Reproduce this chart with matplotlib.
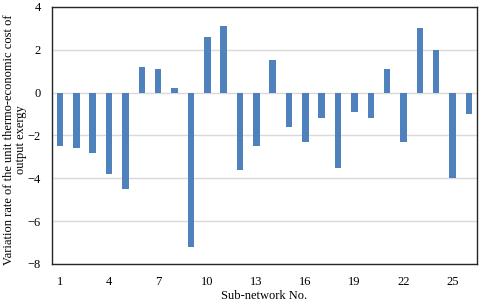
import matplotlib
matplotlib.use("Agg")
import matplotlib.pyplot as plt

# data
sub_network = list(range(1, 27))
variation = [-2.5, -2.6, -2.8, -3.8, -4.5, 1.2, 1.1, 0.2, -7.2, 2.6,
             3.1, -3.6, -2.5, 1.5, -1.6, -2.3, -1.2, -3.5, -0.9, -1.2,
             1.1, -2.3, 3.0, 2.0, -4.0, -1.0]
x_ticks = [1, 4, 7, 10, 13, 16, 19, 22, 25]
y_ticks = [-8, -6, -4, -2, 0, 2, 4]

plt.rcParams['font.family'] = ['Liberation Serif', 'DejaVu Serif']

fig = plt.figure(figsize=(4.8, 3.01), dpi=100)
ax = fig.add_axes([0.108, 0.123, 0.886, 0.854])

ax.bar(sub_network, variation, width=0.4, color='#4f81bd', zorder=3)

ax.set_xlim(0.5, 26.5)
ax.set_ylim(-8, 4)
ax.set_xticks(x_ticks)
ax.set_yticks(y_ticks)
ax.tick_params(length=0, labelsize=9)
ax.tick_params(axis='x', pad=9)
ax.tick_params(axis='y', pad=8)
ax.yaxis.grid(True, color='#d9d9d9', linewidth=1, zorder=0)

for s in ax.spines.values():
    s.set_color('#262626')
    s.set_linewidth(1.0)

ax.set_xlabel('Sub-network No.', fontsize=9, labelpad=1)
# y label placed by hand so the wider tick pad doesn't push it off the edge
fig.text(15 / 480, 1 - 140 / 301,
         'Variation rate of the unit thermo-economic cost of\noutput exergy',
         rotation=90, ha='center', va='center', fontsize=9,
         linespacing=1.0, multialignment='center')

fig.savefig('out.png', dpi=100)
plt.close(fig)
